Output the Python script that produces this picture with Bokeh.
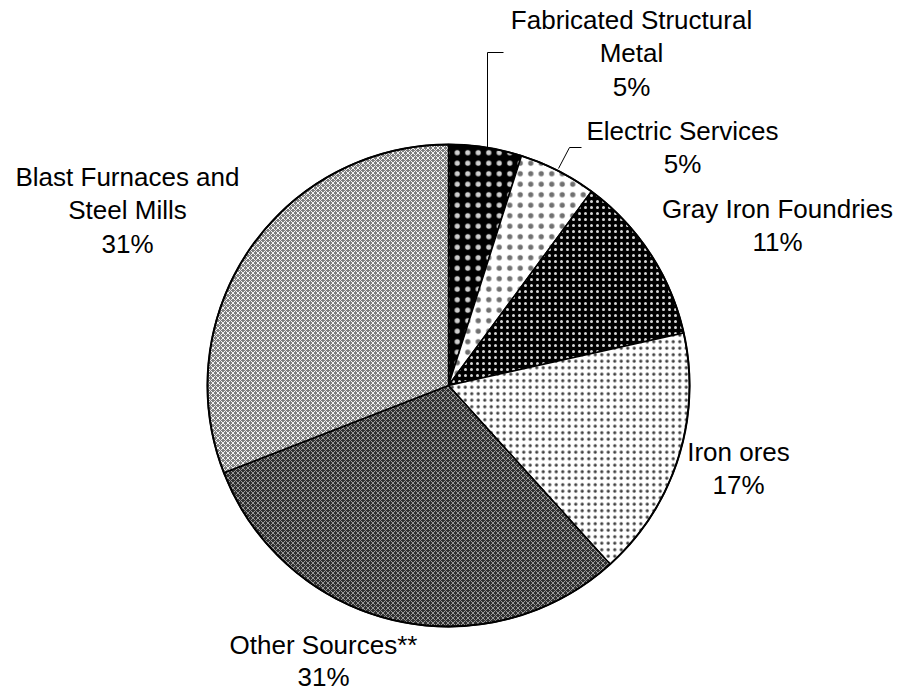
import math
from bokeh.plotting import figure
from bokeh.models import Range1d
from bokeh.core.properties import value
from bokeh.embed import file_html
from bokeh.resources import INLINE

# ---- data ----
categories = ["Fabricated Structural Metal", "Electric Services", "Gray Iron Foundries",
              "Iron ores", "Other Sources**", "Blast Furnaces and Steel Mills"]
shares = [4.9, 5.2, 11.4, 16.8, 30.8, 30.9]
label_lines = [["Fabricated Structural", "Metal"], ["Electric Services"], ["Gray Iron Foundries"],
               ["Iron ores"], ["Other Sources**"], ["Blast Furnaces and", "Steel Mills"]]

# ---- styles ----
fills = ["#000000", "#ffffff", "#000000", "#ffffff", "#303030", "#7e7e7e"]
hatches = ["dot", "dot", "dot", "dot", "diagonal_cross", "diagonal_cross"]
hatch_colors = ["#d0d0d0", "#707070", "#d8d8d8", "#404040", "#9a9a9a", "#f4f4f4"]
hatch_scales = [10.5, 10.5, 6, 6.5, 5, 5]
hatch_weights = [1.2, 1.2, 1.5, 1.5, 1.0, 1.0]

W, H = 898, 692
PH = 692


def Y(py):
    return PH - py


p = figure(width=W, height=H, output_backend="svg", toolbar_location=None,
           x_range=Range1d(0, W), y_range=Range1d(PH - H, PH),
           min_border=0, outline_line_color=None)
p.axis.visible = False
p.grid.visible = False

cx, cy, r = 448, Y(385), 241
total = sum(shares)
cum = 0.0
starts, ends = [], []
for s in shares:
    a0 = cum / total
    cum += s
    a1 = cum / total
    starts.append(math.pi / 2 - 2 * math.pi * a1)
    ends.append(math.pi / 2 - 2 * math.pi * a0)

for i in range(len(shares)):
    p.wedge(x=cx, y=cy, radius=r, start_angle=starts[i], end_angle=ends[i],
            fill_color=fills[i], hatch_pattern=hatches[i], hatch_color=hatch_colors[i],
            hatch_scale=hatch_scales[i], hatch_weight=hatch_weights[i],
            line_color="black", line_width=1.5)

# outer ring
p.circle(x=cx, y=cy, radius=r, fill_color=None, line_color="black", line_width=2)

# leader lines
p.line(x=[487, 487, 503], y=[Y(147), Y(52), Y(52)], line_color="black", line_width=1)
p.line(x=[558, 569, 581], y=[Y(168), Y(147), Y(147)], line_color="black", line_width=1)

# labels
label_pos = [(631, 19), (682, 130), (777, 208), (738, 451), (323, 644), (127, 176)]
label_gap = [33.5, 33.5, 33.5, 33.5, 32, 33.5]
font = value("Liberation Sans")
for i, lines in enumerate(label_lines):
    x0, y0 = label_pos[i]
    all_lines = lines + [f"{round(shares[i])}%"]
    for j, t in enumerate(all_lines):
        p.text(x=[x0], y=[Y(y0 + label_gap[i] * j)], text=[t], text_font=font,
               text_font_size="26px", text_align="center", text_baseline="middle",
               text_color="black")

open("out.html", "w").write(file_html(p, INLINE))
